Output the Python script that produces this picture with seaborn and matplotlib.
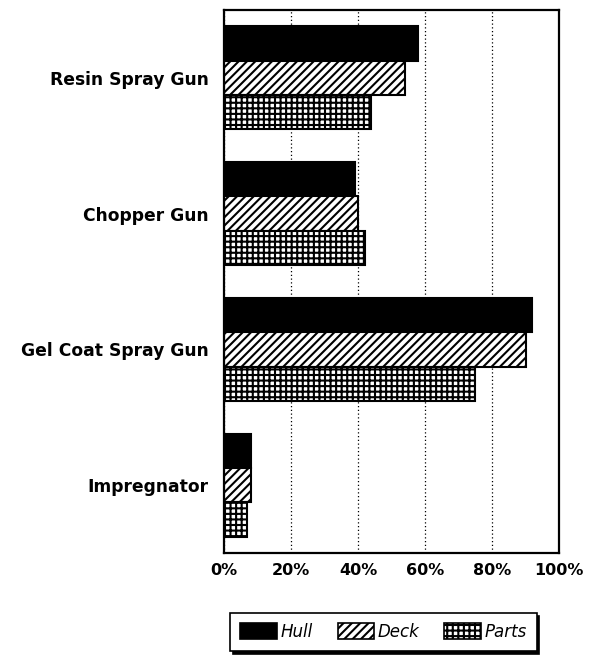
import matplotlib
matplotlib.use("Agg")
import matplotlib.pyplot as plt
import seaborn as sns
import pandas as pd
from matplotlib.patches import Patch

categories = ["Resin Spray Gun", "Chopper Gun", "Gel Coat Spray Gun", "Impregnator"]
series = ["Hull", "Deck", "Parts"]
hull = [58, 39, 92, 8]
deck = [54, 40, 90, 8]
parts = [44, 42, 75, 7]
xticks = [0, 20, 40, 60, 80, 100]
xtick_labels = ["0%", "20%", "40%", "60%", "80%", "100%"]

rows = []
for name, vals in zip(series, [hull, deck, parts]):
    for cat, v in zip(categories, vals):
        rows.append({"Equipment": cat, "Component": name, "Share": v})
df = pd.DataFrame(rows)

sns.set_style("white")
plt.rcParams["hatch.linewidth"] = 1.5
plt.rcParams["hatch.color"] = "black"
plt.rcParams["font.family"] = ["DejaVu Sans"]
plt.rcParams["text.color"] = "black"
plt.rcParams["xtick.color"] = "black"
plt.rcParams["ytick.color"] = "black"

fig, ax = plt.subplots(figsize=(5.9, 6.64), dpi=100)
fig.subplots_adjust(left=224 / 590, right=559 / 590, top=1 - 10 / 664, bottom=1 - 553 / 664)

sns.barplot(data=df, y="Equipment", x="Share", hue="Component", orient="h",
            order=categories, hue_order=series,
            palette=["black", "white", "white"], saturation=1,
            width=0.76, edgecolor="black", linewidth=1.5, ax=ax, legend=False)

hatches = [None, "////", "+++"]
for cont, h in zip(ax.containers, hatches):
    for bar in cont:
        if h:
            bar.set_hatch(h)

ax.set_xlim(0, 100)
ax.set_ylim(3.5, -0.5)
ax.set_xticks(xticks)
ax.set_xticklabels(xtick_labels, fontsize=11.5, fontweight="heavy")
ax.set_yticklabels(categories, fontsize=12.3, fontweight="heavy")
ax.set_xlabel("")
ax.set_ylabel("")
ax.tick_params(axis="both", length=0)
ax.tick_params(axis="x", pad=7)
ax.tick_params(axis="y", pad=11)
ax.xaxis.grid(True, linestyle=(0, (1, 2)), color="black", linewidth=0.9)
ax.set_axisbelow(True)
for sp in ax.spines.values():
    sp.set_visible(True)
    sp.set_color("black")
    sp.set_linewidth(1.6)

handles = [Patch(facecolor=c, edgecolor="black", hatch=h, linewidth=1.2)
           for c, h in zip(["black", "white", "white"], ["", "////", "+++"])]
leg = fig.legend(handles, series, loc="center",
                 bbox_to_anchor=((225 + 542) / 2 / 590, 1 - 632 / 664),
                 ncol=3, frameon=True, fancybox=False,
                 shadow={"color": "black", "alpha": 1},
                 prop={"size": 12, "style": "italic"},
                 handlelength=2.2, handleheight=1.1, handletextpad=0.2,
                 columnspacing=1.5, borderpad=0.6, borderaxespad=0)
leg.get_frame().set_edgecolor("black")
leg.get_frame().set_linewidth(1.2)

fig.savefig("out.png", dpi=100)
